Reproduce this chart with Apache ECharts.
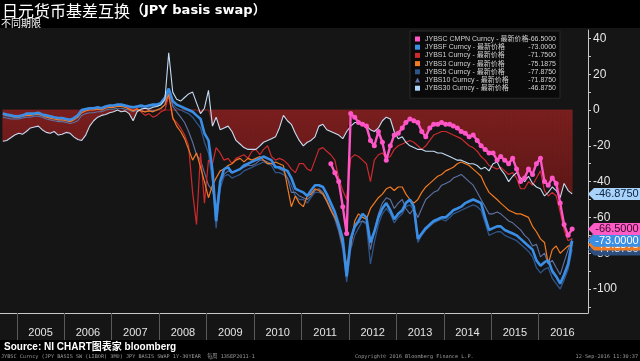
<!DOCTYPE html>
<html>
<head>
<meta charset="utf-8">
<script src="https://cdn.jsdelivr.net/npm/echarts@6.0.0/dist/echarts.min.js"></script>
<style>html,body{margin:0;padding:0;background:#000;}#main{width:640px;height:361px;}</style>
</head>
<body>
<div id="main"></div>
<script>
// ---- data (monthly samples, Sep 2004 .. Sep 2016, 145 points) ----
const yearLabels = [2005, 2006, 2007, 2008, 2009, 2010, 2011, 2012, 2013, 2014, 2015, 2016];
const seriesNames = [
  'JYBSC CMPN Curncy - 最新价格',
  'JYBSF Curncy - 最新价格',
  'JYBS1 Curncy - 最新价格',
  'JYBS3 Curncy - 最新价格',
  'JYBS5 Curncy - 最新价格',
  'JYBS10 Curncy - 最新价格',
  'JYBS30 Curncy - 最新价格'
];
const jybs30 = [
  -17.5, -17, -15.5, -14,
  -13, -13.5, -12, -10, -9.5, -9, -11, -12.5, -13, -12, -14, -13.5,
  -12.5, -13, -15, -16.5, -17, -14, -9, -6, -4, -3, -2.5, -1.5,
  -1, 0, -1, -0.5, -2, -6, -1, 0.5, 1, 0.5, 1.5, 2,
  3, 6, 32, 10, 6, 5, 7, 9, 10, 4, -2, 1,
  11, -9, -4, -11, -10, -9, -12, -17, -19, -21, -22, -22,
  -22, -20, -18, -17, -16, -15, -10, -3, -6, -8, -13, -17,
  -20, -18, -17, -15, -9, -8, -11, -12, -13, -14, -16, -12,
  -9, -7, -7, -8, -9, -11, -12, -10, -6, -4, -5, -12,
  -16, -15, -18, -20, -21, -22, -22, -23, -23, -23, -24, -24,
  -25, -26, -27, -28, -28, -29, -30, -30, -31, -33, -32, -34,
  -30, -29, -33, -36, -40, -37, -35, -38, -40, -37, -41, -43,
  -44, -48, -46, -43, -45, -49, -41, -45, -46.875
];
const jybscStart = '2011-08';
const jybsc = [
  -30, -35, -40, -54, -69,
  -2, -4, -7, -8, -9, -17, -20, -12, -18, -28, -20, -14,
  -13, -10, -7, -5, -6, -7, -12, -15, -10, -8, -8, -7,
  -8, -8, -9, -10, -12, -13, -15, -14, -17, -20, -22, -24,
  -24, -28, -26, -28, -30, -27, -33, -40, -38, -33, -36, -30,
  -27, -40, -42, -38, -41, -52, -64, -70, -66.5
];
const jybsf = [
  -2, -2.5, -3, -3.5,
  -3.5, -3, -2, -2, -2, -1.5, -2.5, -3, -3.5, -4, -4.5, -4.5,
  -5, -5.5, -4.5, -3, 0, 0.5, 1, 1, 1.5, 1, 2, 2.5,
  2.5, 3, 3, 2.5, 2, 1.5, 2, 2.5, 2, 2.5, 3, 3,
  4, 7, 12, 5, 3, 2, 1, 0, -1, -3, -5, -13,
  -17, -34, -62, -40, -33, -32, -35, -34, -33, -31, -30, -29,
  -28, -27, -26, -27, -28, -32, -32, -33, -34, -38, -44, -45,
  -46, -48, -45, -42, -42, -43, -47, -52, -57, -64, -72, -93,
  -72, -65, -62, -58, -60, -74, -68, -60, -55, -52, -56, -61,
  -58, -56, -52, -50, -54, -72, -69, -66, -64, -62, -61, -60,
  -60, -58, -56, -55, -54, -52, -51, -50, -51, -52, -60, -67,
  -66, -65, -65, -67, -68, -69, -70, -72, -74, -76, -78, -84,
  -87, -85, -84, -90, -93, -97, -92, -86, -73
];
const jybs1 = [
  -2, -2.5, -3, -3,
  -3, -3, -2.5, -2.5, -2, -2, -3, -3.5, -4, -4.5, -5, -5,
  -5.5, -6, -5, -3, -1, 0, 0.5, 0.5, 1, 0.5, 1.5, 2,
  2, 2.5, 2.5, 2, 1, 0, 1, -1, -3, -2, -4, -3,
  -1, 0, 8, -5, -7, -10, -14, -20, -46, -64, -24, -52,
  -28, -30, -21, -24, -28, -27, -30, -27, -26, -25, -27, -23,
  -22, -25, -22, -20, -26, -28, -27, -28, -30, -33, -35, -30,
  -30, -33, -34, -28, -22, -21, -23, -25, -28, -38, -45, -50,
  -27, -25, -26, -28, -30, -40, -28, -25, -24, -27, -26, -22,
  -20, -19, -18, -17, -18, -20, -22, -20, -17, -14, -13, -12,
  -12, -13, -14, -15, -16, -18, -20, -21, -23, -26, -28, -31,
  -32, -33, -32, -34, -36, -35, -38, -44, -44, -40, -42, -38,
  -34, -45, -48, -46, -48, -57, -67, -73, -71.75
];
const jybs3 = [
  -2.5, -3, -3.5, -4,
  -4, -3.5, -3, -3, -2.5, -2.5, -3, -4, -4.5, -5, -5.5, -5.5,
  -6, -6.5, -5.5, -4, -1.5, -0.5, 0, 0, 0.5, 0, 1, 1.5,
  1.5, 2, 2, 1.5, 0.5, -0.5, 0.5, -0.5, -1, -0.5, -1, 0,
  1, 3, 9, -4, -9, -12, -16, -22, -28, -24, -32, -40,
  -49, -42, -38, -34, -33, -31, -30, -28, -27, -29, -27, -28,
  -27, -26, -28, -30, -30, -29, -30, -31, -43, -54, -48, -52,
  -54, -48, -47, -44, -45, -47, -51, -56, -60, -65, -75, -87,
  -76, -62, -58, -60, -61, -55, -52, -49, -47, -44, -43, -45,
  -43, -43, -47, -50, -52, -50, -46, -43, -41, -39, -37, -36,
  -34, -33, -32, -30, -29, -30, -31, -33, -35, -37, -42, -46,
  -48, -50, -52, -54, -56, -57, -58, -58, -59, -60, -65, -68,
  -72, -74, -86, -78, -76, -80, -78, -76, -75.1875
];
const jybs5 = [
  -3, -3.5, -4, -4.5,
  -4.5, -4, -3, -3, -3, -2.5, -3.5, -4, -4.5, -5, -5.5, -5.5,
  -6, -6.5, -5.5, -4, -1, 0, 0.5, 0.5, 1, 0.5, 1.5, 2,
  2, 2.5, 2.5, 2, 1.5, 1, 1.5, 1.5, 1, 1.5, 2, 2,
  3, 5, 10, 3, 1, 0, -1, -2, -4, -7, -10, -18,
  -24, -40, -66, -44, -37, -36, -38, -37, -36, -34, -33, -32,
  -31, -30, -29, -30, -31, -35, -35, -36, -38, -42, -48, -50,
  -50, -52, -49, -46, -46, -47, -51, -56, -61, -68, -78, -96,
  -78, -70, -66, -62, -64, -86, -74, -64, -58, -55, -58, -63,
  -60, -58, -54, -53, -56, -74, -70, -67, -65, -63, -62, -61,
  -62, -60, -58, -57, -56, -55, -54, -53, -54, -56, -63, -70,
  -69, -68, -68, -70, -71, -72, -73, -75, -77, -79, -82, -88,
  -91, -89, -88, -94, -97, -100, -95, -89, -77.875
];
const jybs10 = [
  -4, -4.5, -5, -5,
  -5, -4.5, -4, -4, -3.5, -3.5, -4, -5, -5.5, -6, -6.5, -6.5,
  -7, -7.5, -7, -6, -3, -2, -1.5, -1.5, -1, -1, 0, 0.5,
  0.5, 1, 1, 0.5, 0, -1, 0, -0.5, -1, -0.5, -0.5, 0,
  1, 3, 12, 2, -1, -4, -7, -12, -18, -25, -28, -35,
  -42, -45, -55, -40, -36, -34, -35, -34, -33, -32, -31, -31,
  -30, -28, -28, -29, -30, -31, -33, -34, -38, -46, -46, -48,
  -49, -50, -48, -45, -44, -46, -50, -55, -60, -67, -76, -90,
  -74, -66, -63, -62, -63, -78, -68, -58, -52, -49, -50, -55,
  -52, -50, -55, -58, -55, -60, -55, -50, -48, -46, -45, -42,
  -41, -40, -38, -37, -36, -38, -40, -42, -46, -50, -54, -58,
  -58, -57, -58, -60, -62, -63, -65, -67, -70, -72, -76, -75,
  -82, -80, -86, -84, -88, -92, -85, -78, -71.875
];
const yTickLabels = [-100, -80, -60, -40, -20, 0, 20, 40];
const yMinorTicks = [-110, -100, -90, -80, -70, -60, -50, -40, -30, -20, -10, 0, 10, 20, 30, 40];

// ---- build ----
const monthTs = [];
for (let i = 0; i < jybs30.length; i++) monthTs.push(Date.UTC(2004, 8 + i, 15));
const sp = jybscStart.split('-').map(Number);
const jybscOffset = (sp[0] - 2004) * 12 + (sp[1] - 9);
const toPairs = (vals, off) => vals.map((v, i) => [monthTs[i + (off || 0)], v]);

// shaded zone: between 0 and the upper envelope of JYBS30 / JYBSC (only where below 0)
const envelope = jybs30.map((v, i) => {
  const c = i >= jybscOffset ? jybsc[i - jybscOffset] : null;
  return Math.min(c == null ? v : Math.max(v, c), 0);
});
const bandSegments = envelope.slice(0, -1).map((v, i) => [monthTs[i], v, monthTs[i + 1], envelope[i + 1]]);

const xMin = Date.UTC(2004, 7, 24);
const xMax = Date.UTC(2017, 0, 15);
const yMin = -113.4, yMax = 44.7;
const PANEL = '#151515';

const last = a => a[a.length - 1];
const lastVals = {};
const valsByName = [jybsc, jybsf, jybs1, jybs3, jybs5, jybs10, jybs30];
seriesNames.forEach((n, i) => lastVals[n] = last(valsByName[i]));

const tagPath = 'path://M0,6L6,0L54,0L54,12L6,12Z';
function tag(value, bg, fg, z) {
  return {
    symbol: tagPath, symbolSize: [54, 12], symbolOffset: [27, 0], z: z, silent: true,
    itemStyle: { color: bg },
    label: { show: true, position: 'inside', color: fg, fontSize: 11, fontFamily: 'Liberation Sans',
             formatter: p => p.value.toFixed(4), offset: [2, 0] },
    data: [{ coord: [xMax, value], value: value }]
  };
}

function lineSeries(name, vals, color, width, tagBg, tagFg, tz, off) {
  return {
    name: name, type: 'line', z: 3, data: toPairs(vals, off), showSymbol: false, symbol: 'none',
    lineStyle: { color: color, width: width }, itemStyle: { color: color },
    markPoint: tag(last(vals), tagBg, tagFg, tz)
  };
}

const redFill = {
  type: 'linear', x: 0, y: 110, x2: 0, y2: 240, global: true,
  colorStops: [{ offset: 0, color: '#7a1e1e' }, { offset: 1, color: '#4e1212' }]
};

const series = [
  { name: '_band', type: 'custom', z: 1, silent: true, clip: true, data: bandSegments,
    encode: { x: [0, 2], y: [1, 3] },
    renderItem: (params, api) => {
      const a = api.coord([api.value(0), api.value(1)]);
      const b = api.coord([api.value(2), api.value(3)]);
      const b0 = api.coord([api.value(2), 0]);
      const a0 = api.coord([api.value(0), 0]);
      return { type: 'polygon', shape: { points: [a, b, b0, a0] },
               style: { fill: redFill, stroke: redFill, lineWidth: 0.8 } };
    } },
  lineSeries(seriesNames[4], jybs5, '#2f5588', 1.3, '#2d4f80', '#d6deea', 12),
  lineSeries(seriesNames[5], jybs10, '#5f72a4', 1.1, '#5f72a4', '#ffffff', 11),
  lineSeries(seriesNames[2], jybs1, '#cc2a2e', 1.2, '#c8282c', '#ffffff', 10),
  lineSeries(seriesNames[3], jybs3, '#f27a22', 1.2, '#f07a22', '#ffffff', 13),
  lineSeries(seriesNames[1], jybsf, '#3a8ee6', 2.6, '#3b8fe4', '#ffffff', 14),
  lineSeries(seriesNames[6], jybs30, '#c4dbf3', 1.1, '#a9d3fb', '#0b2340', 16),
  Object.assign(lineSeries(seriesNames[0], jybsc, '#ff55c6', 2.4, '#ff5cc8', '#3a0a28', 15, jybscOffset),
    { showSymbol: true, symbol: 'circle', symbolSize: 5 })
];

const icons = { 'JYBS10 Curncy - 最新价格': 'triangle' };
const legendColors = ['#ff55c6', '#3a8ee6', '#cc2a2e', '#f27a22', '#2f5588', '#5f72a4', '#a9d3fb'];

const option = {
  backgroundColor: PANEL,
  animation: false,
  grid: { left: 0, right: 52, top: 30, bottom: 48 },
  xAxis: {
    type: 'value', min: xMin, max: xMax,
    axisLine: { show: true, onZero: false, lineStyle: { color: '#c8c8c8', width: 1 } },
    axisTick: { show: true, length: 27, customValues: yearLabels.map(y => Date.UTC(y, 0, 1)),
                lineStyle: { color: '#5a5a5a' } },
    axisLabel: { customValues: yearLabels.map(y => Date.UTC(y, 6, 2)),
                 formatter: v => String(new Date(v).getUTCFullYear()),
                 color: '#e4e4e4', fontSize: 11, fontFamily: 'Liberation Sans', margin: 14 },
    splitLine: { show: false }
  },
  yAxis: {
    type: 'value', position: 'right', min: yMin, max: yMax,
    axisLine: { show: true, lineStyle: { color: '#c8c8c8' } },
    axisTick: { show: true, length: 3, customValues: yMinorTicks, lineStyle: { color: '#c8c8c8' } },
    axisLabel: { customValues: yTickLabels, color: '#e6e6e6', fontSize: 12, fontFamily: 'Liberation Sans', margin: 5 },
    splitLine: { show: false }
  },
  legend: {
    orient: 'vertical', left: 410, top: 31, padding: [4, 4, 6, 5],
    backgroundColor: '#0a0a0a', borderColor: '#2a2a2a', borderWidth: 1,
    itemWidth: 5, itemHeight: 5, itemGap: 0.2, selectedMode: false,
    data: seriesNames.map((n, i) => ({ name: n, icon: icons[n] || 'rect', itemStyle: { color: legendColors[i] } })),
    formatter: n => '{n|' + n + '}{v|' + lastVals[n].toFixed(4) + '}',
    textStyle: { color: '#d0d0d0', fontSize: 7, lineHeight: 8, fontFamily: "'Liberation Sans', 'Noto Sans CJK SC'",
      rich: { n: { width: 102, fontSize: 7, lineHeight: 8, color: '#d0d0d0', fontFamily: "'Liberation Sans', 'Noto Sans CJK SC'" },
              v: { width: 29, align: 'right', fontSize: 7, lineHeight: 8, color: '#d0d0d0', fontFamily: 'Liberation Sans' } } }
  },
  graphic: [
    { type: 'rect', z: -10, silent: true, shape: { x: 0, y: 0, width: 640, height: 28 }, style: { fill: '#000' } },
    { type: 'rect', z: -10, silent: true, shape: { x: 0, y: 340, width: 640, height: 21 }, style: { fill: '#000' } },
    { type: 'text', z: 100, x: 2, y: 11, style: { text: '日元货币基差互换', fill: '#fff', font: "16px 'Noto Sans CJK SC'", textVerticalAlign: 'middle' } },
    { type: 'text', z: 100, x: 131, y: 11, style: { text: '（JPY basis swap）', fill: '#fff', font: "bold 13px 'DejaVu Sans', 'Noto Sans CJK SC'", textVerticalAlign: 'middle' } },
    { type: 'text', z: 100, x: 1, y: 23.5, style: { text: '不同期限', fill: '#fff', font: "10px 'Noto Sans CJK SC'", textVerticalAlign: 'middle' } },
    { type: 'text', z: 100, x: 4, y: 347, style: { text: 'Source: NI CHART图表家 bloomberg', fill: '#fff', font: "bold 10px 'Liberation Sans', 'Noto Sans CJK SC'", textVerticalAlign: 'middle' } },
    { type: 'text', z: 100, x: 1, y: 357, style: { text: 'JYBSC Curncy (JPY BASIS SW (LIBOR) 3MO) JPY BASIS SWAP 1Y-30YEAR  每周 13SEP2011-1', fill: '#9a9a9a', font: "5.2px 'DejaVu Sans Mono', 'Noto Sans CJK SC'", textVerticalAlign: 'middle' } },
    { type: 'text', z: 100, x: 355, y: 357, style: { text: 'Copyright© 2016 Bloomberg Finance L.P.', fill: '#9a9a9a', font: "5.2px 'DejaVu Sans Mono'", textVerticalAlign: 'middle' } },
    { type: 'text', z: 100, x: 638, y: 357, style: { text: '12-Sep-2016 11:30:37', fill: '#9a9a9a', font: "5.2px 'DejaVu Sans Mono'", textAlign: 'right', textVerticalAlign: 'middle' } }
  ],
  series: series
};
const chart = echarts.init(document.getElementById('main'), null, { renderer: 'canvas' });
chart.setOption(option);
</script>
</body>
</html>
